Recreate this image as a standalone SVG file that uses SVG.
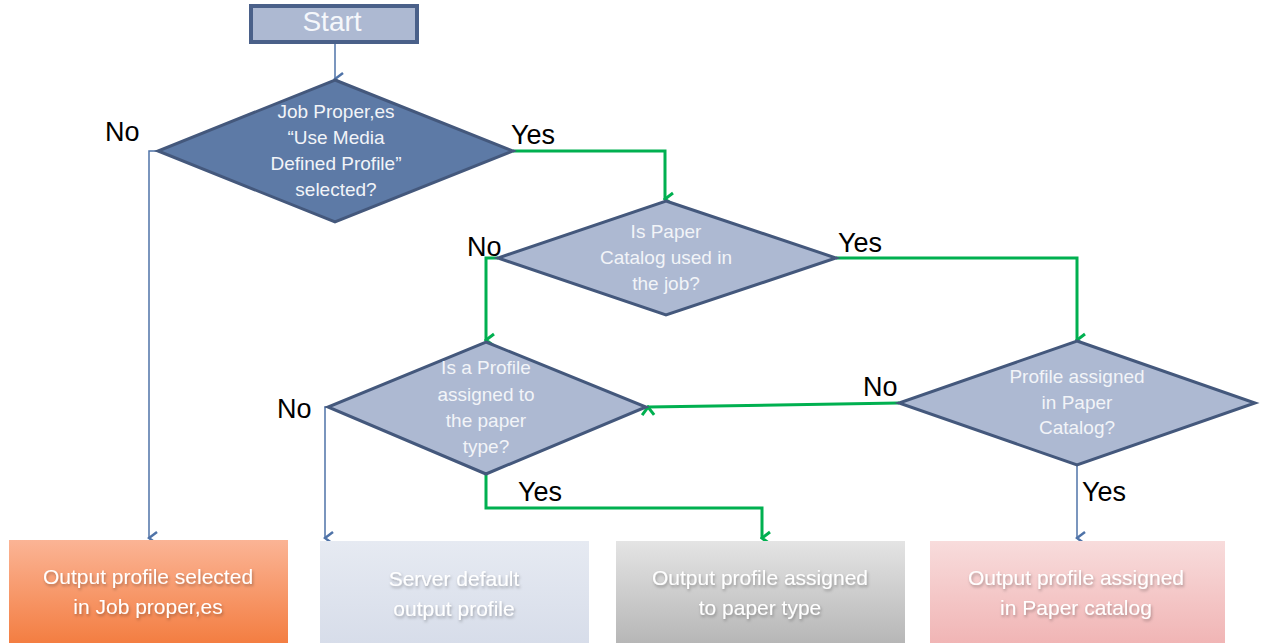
<svg xmlns="http://www.w3.org/2000/svg" width="1262" height="643" viewBox="0 0 1262 643">
<defs>
<style>
.lbl{font-family:"Liberation Sans",Arial,sans-serif;font-size:27px;fill:#000}
.dt{font-family:"Liberation Sans",Arial,sans-serif;font-size:19px;fill:#f2f4f8;text-anchor:middle}
.bt{font-family:"Liberation Sans",Arial,sans-serif;font-size:21px;fill:#ffffff;text-anchor:middle}
.dia{stroke:#44587c;stroke-width:3;stroke-linejoin:miter}
.g{fill:none;stroke:#00b050;stroke-width:3}
.b{fill:none;stroke:#4f73a8;stroke-width:1.5}
</style>
<marker id="ag" viewBox="0 0 16 16" refX="8" refY="14" markerWidth="16" markerHeight="16" markerUnits="userSpaceOnUse" orient="auto-start-reverse">
<path d="M2,6 L8,14 L14,6" fill="none" stroke="#00b050" stroke-width="3"/>
</marker>
<marker id="ab" viewBox="0 0 16 16" refX="8" refY="14" markerWidth="16" markerHeight="16" markerUnits="userSpaceOnUse" orient="auto-start-reverse">
<path d="M2,6 L8,14 L14,6" fill="none" stroke="#4f73a8" stroke-width="2.5"/>
</marker>
<linearGradient id="gOr" x1="0" y1="0" x2="0" y2="1"><stop offset="0" stop-color="#fbb495"/><stop offset="1" stop-color="#f37a3c"/></linearGradient>
<linearGradient id="gBl" x1="0" y1="0" x2="0" y2="1"><stop offset="0" stop-color="#e6eaf2"/><stop offset="1" stop-color="#d6dce9"/></linearGradient>
<linearGradient id="gGr" x1="0" y1="0" x2="0" y2="1"><stop offset="0" stop-color="#e4e4e4"/><stop offset="1" stop-color="#b3b3b3"/></linearGradient>
<linearGradient id="gPk" x1="0" y1="0" x2="0" y2="1"><stop offset="0" stop-color="#f8dcdc"/><stop offset="1" stop-color="#f0b2b2"/></linearGradient>
<filter id="sh" x="-10%" y="-30%" width="120%" height="160%"><feDropShadow dx="1" dy="2" stdDeviation="1.5" flood-color="#000" flood-opacity="0.3"/></filter>
</defs>
<rect width="1262" height="643" fill="#ffffff"/>

<g id="connectors">
<path class="b" d="M335,42 L335,79" marker-end="url(#ab)"/>
<path class="g" d="M513,151 L665,151 L665,199" marker-end="url(#ag)"/>
<path class="b" d="M158,151 L149,151 L149,538" marker-end="url(#ab)"/>
<path class="g" d="M498,258 L486,258 L486,340" marker-end="url(#ag)"/>
<path class="g" d="M836,258 L1077,258 L1077,340" marker-end="url(#ag)"/>
<path class="b" d="M328,407 L325,407 L325,538" marker-end="url(#ab)"/>
<path class="g" d="M486,474 L486,508 L762,508 L762,538" marker-end="url(#ag)"/>
<path class="g" d="M899,403 L648,407" marker-end="url(#ag)"/>
<path class="b" d="M1077,465 L1077,538" marker-end="url(#ab)"/>
<text class="lbl" x="105" y="141">No</text>
<text class="lbl" x="511" y="144">Yes</text>
<text class="lbl" x="467" y="256">No</text>
<text class="lbl" x="838" y="252">Yes</text>
<text class="lbl" x="277" y="418">No</text>
<text class="lbl" x="863" y="396">No</text>
<text class="lbl" x="518" y="501">Yes</text>
<text class="lbl" x="1082" y="501">Yes</text>
</g>

<g id="start">
<rect x="251" y="6" width="166" height="36" fill="#adb9d2" stroke="#4a6089" stroke-width="4"/>
<text x="332" y="31" font-family="Liberation Sans, Arial, sans-serif" font-size="28" fill="#f5f7fb" text-anchor="middle">Start</text>
</g>

<g id="d1">
<polygon class="dia" points="335,80 513,151 335,222 158,151" fill="#5d7aa6"/>
<text class="dt" x="336" y="118">Job Proper,es</text>
<text class="dt" x="336" y="144">“Use Media</text>
<text class="dt" x="336" y="170">Defined Profile”</text>
<text class="dt" x="336" y="196">selected?</text>
</g>

<g id="d2">
<polygon class="dia" points="666,201 836,258 666,315 498,258" fill="#adb9d2"/>
<text class="dt" x="666" y="238">Is Paper</text>
<text class="dt" x="666" y="264">Catalog used in</text>
<text class="dt" x="666" y="290">the job?</text>
</g>

<g id="d3">
<polygon class="dia" points="486,342 646,407 486,474 328,407" fill="#adb9d2"/>
<text class="dt" x="486" y="374">Is a Profile</text>
<text class="dt" x="486" y="401">assigned to</text>
<text class="dt" x="486" y="427">the paper</text>
<text class="dt" x="486" y="453">type?</text>
</g>

<g id="d4">
<polygon class="dia" points="1077,341 1255,403 1077,465 899,403" fill="#adb9d2"/>
<text class="dt" x="1077" y="383">Profile assigned</text>
<text class="dt" x="1077" y="409">in Paper</text>
<text class="dt" x="1077" y="434">Catalog?</text>
</g>

<g id="o1">
<rect x="9" y="540" width="279" height="110" fill="url(#gOr)"/>
<text class="bt" x="148" y="584" filter="url(#sh)">Output profile selected</text>
<text class="bt" x="148" y="614" filter="url(#sh)">in Job proper,es</text>
</g>
<g id="o2">
<rect x="320" y="541" width="269" height="110" fill="url(#gBl)"/>
<text class="bt" x="454" y="586" filter="url(#sh)">Server default</text>
<text class="bt" x="454" y="616" filter="url(#sh)">output profile</text>
</g>
<g id="o3">
<rect x="616" y="541" width="289" height="110" fill="url(#gGr)"/>
<text class="bt" x="760" y="585" filter="url(#sh)">Output profile assigned</text>
<text class="bt" x="760" y="615" filter="url(#sh)">to paper type</text>
</g>
<g id="o4">
<rect x="930" y="541" width="295" height="110" fill="url(#gPk)"/>
<text class="bt" x="1076" y="585" filter="url(#sh)">Output profile assigned</text>
<text class="bt" x="1076" y="615" filter="url(#sh)">in Paper catalog</text>
</g>
</svg>
